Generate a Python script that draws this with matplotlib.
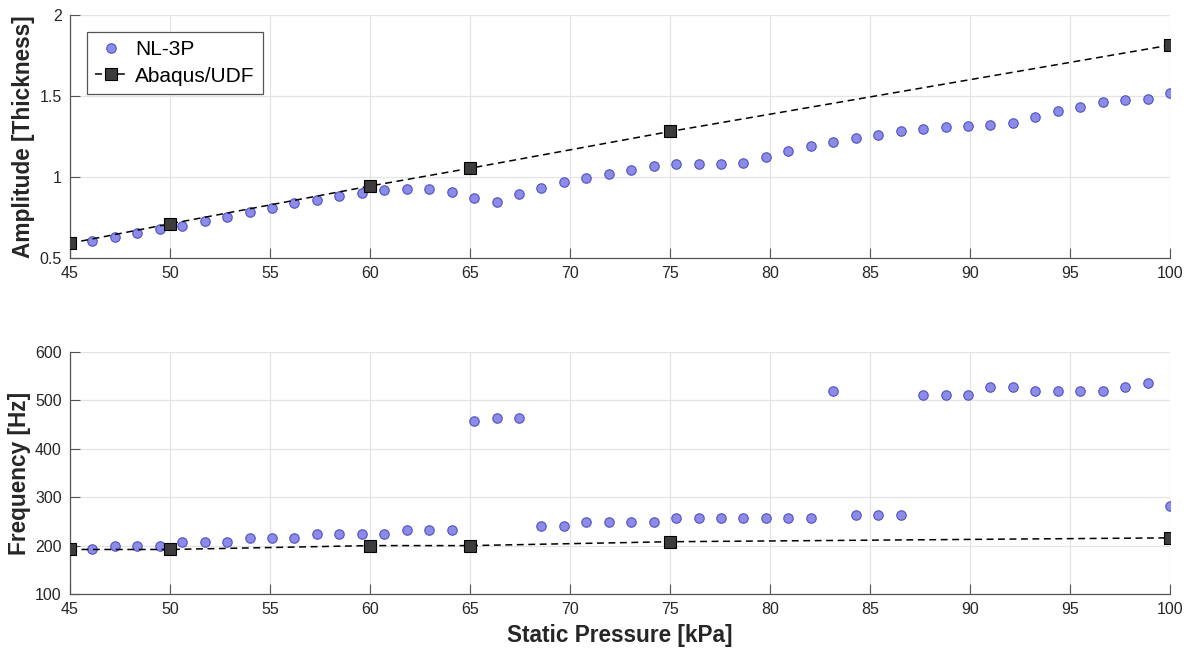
import numpy as np
import matplotlib.pyplot as plt

plt.rcParams['font.family'] = ['Liberation Sans', 'DejaVu Sans']

# NL-3P results (static pressure sweep)
pressure_nl = [45.0, 46.12, 47.24, 48.37, 49.49, 50.61, 51.73, 52.86, 53.98, 55.10,
               56.22, 57.35, 58.47, 59.59, 60.71, 61.84, 62.96, 64.08, 65.20, 66.33,
               67.45, 68.57, 69.69, 70.82, 71.94, 73.06, 74.18, 75.31, 76.43, 77.55,
               78.67, 79.80, 80.92, 82.04, 83.16, 84.29, 85.41, 86.53, 87.65, 88.78,
               89.90, 91.02, 92.14, 93.27, 94.39, 95.51, 96.63, 97.76, 98.88, 100.0]
amp_nl = [0.59, 0.607, 0.630, 0.655, 0.676, 0.700, 0.731, 0.756, 0.783, 0.810,
          0.839, 0.860, 0.884, 0.901, 0.917, 0.924, 0.924, 0.909, 0.872, 0.847,
          0.893, 0.930, 0.967, 0.992, 1.021, 1.041, 1.066, 1.079, 1.083, 1.083,
          1.085, 1.122, 1.161, 1.192, 1.215, 1.240, 1.260, 1.283, 1.298, 1.310,
          1.314, 1.324, 1.333, 1.372, 1.409, 1.434, 1.461, 1.475, 1.481, 1.521]
freq_nl = [192, 192, 200, 200, 200, 208, 208, 208, 216, 216,
           216, 224, 224, 224, 224, 232, 232, 232, 457, 464,
           464, 240, 240, 248, 248, 248, 248, 256, 256, 256,
           256, 256, 256, 256, 520, 264, 264, 264, 512, 512,
           512, 528, 528, 520, 520, 520, 520, 528, 536, 281]

# Abaqus/UDF reference points
pressure_fe = [45, 50, 60, 65, 75, 100]
amp_fe = [0.591, 0.711, 0.944, 1.054, 1.281, 1.814]
freq_fe = [192, 192, 200, 200, 208, 216]

x_ticks = list(range(45, 101, 5))

fig = plt.figure(figsize=(11.9, 6.52), dpi=100)
ax1 = fig.add_axes([70/1190, 1-258/652, 1100/1190, 243/652])
ax2 = fig.add_axes([70/1190, 1-594/652, 1100/1190, 242/652])

circ = dict(linestyle='none', marker='o', markersize=6.8, markerfacecolor='#8c8ce6',
            markeredgecolor='#5050c8', markeredgewidth=0.8)
sq = dict(color='black', linestyle='--', linewidth=1.1, dashes=(4.5, 3),
          marker='s', markersize=8, markerfacecolor='#3c3c3c', markeredgecolor='black',
          markeredgewidth=0.8)

ax1.plot(pressure_nl, amp_nl, label='NL-3P', zorder=3, **circ)
ax1.plot(pressure_fe, amp_fe, label='Abaqus/UDF', zorder=4, **sq)
ax2.plot(pressure_nl, freq_nl, zorder=3, **circ)
ax2.plot(pressure_fe, freq_fe, zorder=4, **sq)

ax1.set_ylim(0.5, 2)
ax1.set_yticks([0.5, 1, 1.5, 2])
ax1.set_yticklabels(['0.5', '1', '1.5', '2'])
ax2.set_ylim(100, 600)
ax2.set_yticks(range(100, 601, 100))

for ax in (ax1, ax2):
    ax.set_xlim(45, 100)
    ax.set_xticks(x_ticks)
    ax.grid(True, color='#e4e4e4', linewidth=0.9)
    ax.set_axisbelow(True)
    for s in ('top', 'right'):
        ax.spines[s].set_visible(False)
    for s in ('left', 'bottom'):
        ax.spines[s].set_color('#555555')
        ax.spines[s].set_linewidth(0.9)
    ax.tick_params(direction='in', length=7.5, width=0.8, color='#555555',
                   labelsize=11.5, labelcolor='#262626', pad=6)

lab = dict(fontsize=16.3, fontweight='bold', color='#262626')
ax1.set_ylabel('Amplitude [Thickness]', labelpad=3, **lab)
ax2.set_ylabel('Frequency [Hz]', labelpad=3, **lab)
ax2.set_xlabel('Static Pressure [kPa]', labelpad=5, **lab)

leg = ax1.legend(loc='upper left', bbox_to_anchor=(0.0155, 0.93), fontsize=15,
                 frameon=True, fancybox=False, framealpha=1, edgecolor='#555555',
                 handlelength=1.5, handletextpad=0.4, borderpad=0.4, labelspacing=0.35,
                 borderaxespad=0)
leg.get_frame().set_linewidth(0.9)

fig.savefig('out.png', dpi=100)
